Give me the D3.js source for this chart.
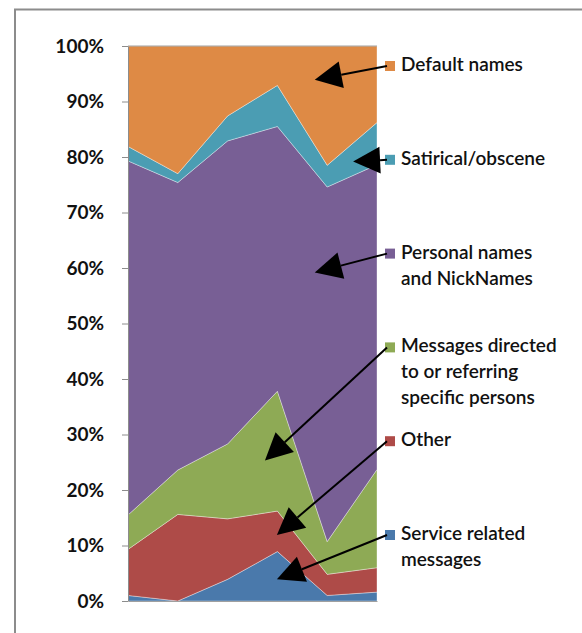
<!DOCTYPE html>
<html>
<head>
<meta charset="utf-8">
<script src="https://cdn.jsdelivr.net/npm/d3@7"></script>
<style>
  body { margin: 0; background: #fff; }
  svg { display: block; }
</style>
</head>
<body>
<div id="chart"></div>
<script>
// categories (no labels shown on x axis)
const points = [0, 1, 2, 3, 4, 5];

// share of each category per point, in %, bottom to top of the stack
const service = [1.0, 0.0, 3.9, 8.9, 1.0, 1.6];
const other = [8.3, 15.6, 10.9, 7.3, 3.8, 4.4];
const messages = [6.2, 8.0, 13.5, 21.6, 5.9, 17.7];
const personal = [63.8, 51.8, 54.6, 47.7, 63.9, 54.9];
const satirical = [2.6, 1.6, 4.5, 7.4, 3.9, 7.6];
const defaults = [18.1, 23.0, 12.6, 7.1, 21.5, 13.8];

const seriesKeys = ['service', 'other', 'messages', 'personal', 'satirical', 'defaults'];
const seriesValues = [service, other, messages, personal, satirical, defaults];
const colors = ['#4a79ab', '#ae4b48', '#8eaa55', '#785f95', '#4b9db3', '#de8a45'];

// legend, top to bottom
const legendKeys = ['defaults', 'satirical', 'personal', 'messages', 'other', 'service'];
const legendLabels = [
    ['Default names'],
    ['Satirical/obscene'],
    ['Personal names', 'and NickNames'],
    ['Messages directed', 'to or referring', 'specific persons'],
    ['Other'],
    ['Service related', 'messages']
];
// where each arrow points, as [point index, share]
const arrowTargets = [[3.75, 0.939], [4.52, 0.792], [3.75, 0.592], [2.75, 0.253], [2.99, 0.119], [2.99, 0.039]];

const yTicks = [0, 0.1, 0.2, 0.3, 0.4, 0.5, 0.6, 0.7, 0.8, 0.9, 1];

const width = 582;
const height = 633;
const margin = {top: 46, right: 205, bottom: 32, left: 128};

const svg = d3.select("#chart").append("svg")
    .attr("width", width)
    .attr("height", height);

// outer frame (right and bottom edges fall outside the picture)
svg.append("path")
    .attr("d", `M15,${height + 5}V9.5H${width + 5}`)
    .attr("fill", "none")
    .attr("stroke", "#8c8c8c")
    .attr("stroke-width", 2);

const table = points.map((p, i) => {
    const row = {point: p};
    seriesKeys.forEach((k, j) => { row[k] = seriesValues[j][i]; });
    return row;
});

const stacked = d3.stack()
    .keys(seriesKeys)
    .offset(d3.stackOffsetExpand)(table);

const x = d3.scaleLinear()
    .domain(d3.extent(points))
    .range([margin.left, width - margin.right]);

const y = d3.scaleLinear()
    .domain([0, 1])
    .range([height - margin.bottom, margin.top]);

const area = d3.area()
    .x(d => x(d.data.point))
    .y0(d => y(d[0]))
    .y1(d => y(d[1]));

svg.append("g")
    .selectAll("path")
    .data(stacked)
    .enter().append("path")
    .attr("d", area)
    .attr("fill", (d, i) => colors[i])
    .attr("stroke", "rgba(255,255,255,0.45)")
    .attr("stroke-width", 0.8);

// axes
const yAxis = svg.append("g")
    .attr("transform", `translate(${margin.left},0)`)
    .call(d3.axisLeft(y).tickValues(yTicks).tickFormat(d3.format(".0%"))
        .tickSize(6).tickSizeOuter(0).tickPadding(18));
yAxis.selectAll("line, path").attr("stroke", "#8c8c8c");
yAxis.selectAll("text")
    .attr("fill", "#111")
    .style("font-family", "Lato, sans-serif")
    .style("font-weight", "bold")
    .style("font-size", "19px");

svg.append("g")
    .attr("transform", `translate(0,${y(0)})`)
    .call(d3.axisBottom(x).tickValues([]).tickSizeOuter(0))
    .select("path").attr("stroke", "#a0a0a0");

svg.append("line")
    .attr("x1", margin.left).attr("x2", width - margin.right)
    .attr("y1", y(1)).attr("y2", y(1))
    .attr("stroke", "#a0a0a0");

// legend
const legendX = width - margin.right + 8;
const legendStep = 93.8;
const legend = svg.append("g");

legendKeys.forEach((key, i) => {
    const cy = 66 + i * legendStep;
    const color = colors[seriesKeys.indexOf(key)];
    legend.append("rect")
        .attr("x", legendX)
        .attr("y", cy - 5)
        .attr("width", 10)
        .attr("height", 10)
        .attr("fill", color);

    const text = legend.append("text")
        .attr("x", legendX + 16)
        .attr("y", cy + 5)
        .attr("fill", "#111")
        .style("font-family", "Lato, sans-serif")
        .style("font-size", "19px")
        .style("font-weight", "600");
    legendLabels[i].forEach((line, j) => {
        text.append("tspan")
            .attr("x", legendX + 16)
            .attr("dy", j === 0 ? 0 : 26)
            .text(line);
    });

    // arrow from legend square into the area
    const x0 = legendX + 2, y0 = cy;
    const tx = x(arrowTargets[i][0]), ty = y(arrowTargets[i][1]);
    const dx = tx - x0, dy = ty - y0;
    const len = Math.sqrt(dx * dx + dy * dy);
    const ux = dx / len, uy = dy / len;
    const headLen = 27, headHalf = 13.5;
    const bx = tx - ux * headLen, by = ty - uy * headLen;

    svg.append("line")
        .attr("x1", x0).attr("y1", y0)
        .attr("x2", bx).attr("y2", by)
        .attr("stroke", "#000")
        .attr("stroke-width", 2);

    svg.append("polygon")
        .attr("points", [
            [tx, ty],
            [bx - uy * headHalf, by + ux * headHalf],
            [bx + uy * headHalf, by - ux * headHalf]
        ].map(p => p.join(",")).join(" "))
        .attr("fill", "#000");
});
</script>
</body>
</html>
